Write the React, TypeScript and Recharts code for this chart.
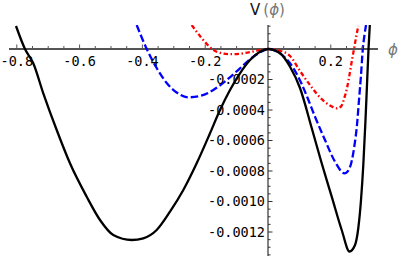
import React from 'react';
import { LineChart, Line, XAxis, YAxis, ReferenceLine, ReferenceDot } from 'recharts';

// ---- data ----
const blackPhi = [-0.8025, -0.7739, -0.7475, -0.7156, -0.6729, -0.6306, -0.5774, -0.535, -0.4927, -0.4341, -0.3971, -0.3545, -0.3121, -0.2697, -0.2271, -0.1847, -0.1529, -0.121, -0.0892, -0.0573, -0.0255, 0, 0.0382, 0.0701, 0.1019, 0.1392, 0.171, 0.2029, 0.2347, 0.2596, 0.2771, 0.2876, 0.2962, 0.3035, 0.3105, 0.3159, 0.3201, 0.3242];
const blackV = [0.0001508, 0, -0.0000938, -0.0002905, -0.0005311, -0.0007495, -0.0009685, -0.0011212, -0.0012196, -0.0012524, -0.0012412, -0.0011868, -0.0010668, -0.0009245, -0.0007495, -0.0005528, -0.0004, -0.0002688, -0.0001593, -0.0000721, -0.0000177, 0, -0.0000282, -0.0001161, -0.0002557, -0.000518, -0.0007495, -0.0009685, -0.0011868, -0.0013278, -0.0012852, -0.0011737, -0.0009901, -0.0007606, -0.0004655, -0.0002033, 0, 0.0001574];

const bluePhi = [-0.4182, -0.3863, -0.3545, -0.3226, -0.2908, -0.2538, -0.2166, -0.1742, -0.1315, -0.0892, -0.0468, -0.015, 0, 0.0287, 0.0541, 0.0796, 0.1073, 0.1274, 0.1497, 0.1815, 0.2134, 0.2436, 0.2548, 0.2659, 0.2755, 0.2834, 0.2898, 0.2962, 0.3019, 0.3073, 0.3121];
const blueV = [0.0001574, 0, -0.0001246, -0.0002229, -0.0002852, -0.0003167, -0.0003082, -0.0002688, -0.0002033, -0.0001266, -0.0000505, -0.0000111, 0, -0.0000164, -0.0000557, -0.0001213, -0.0002295, -0.0003279, -0.0004439, -0.0005967, -0.000739, -0.000815, -0.0008, -0.000741, -0.0006295, -0.0004983, -0.0003344, -0.0001705, 0, 0.0000918, 0.0001574];

const redPhi = [-0.243, -0.2166, -0.1901, -0.1634, -0.121, -0.0787, -0.036, 0, 0.0382, 0.0701, 0.1019, 0.1385, 0.1656, 0.1975, 0.2188, 0.2325, 0.243, 0.2516, 0.2611, 0.2675, 0.2739, 0.2812, 0.2876];
const redV = [0.0001574, 0.0000852, 0.0000229, -0.0000177, -0.0000341, -0.0000282, -0.0000111, 0, -0.0000118, -0.0000459, -0.0001443, -0.0002492, -0.000318, -0.0003705, -0.0003888, -0.000377, -0.0003213, -0.0002557, -0.0001508, -0.0000721, 0, 0.0000852, 0.0001508];

const xMajorTicks = [-0.8, -0.6, -0.4, -0.2, 0.2];
const xTickLabels = ['-0.8', '-0.6', '-0.4', '-0.2', '0.2'];
const xMinorTicks = [-0.75, -0.7, -0.65, -0.55, -0.5, -0.45, -0.35, -0.3, -0.25, -0.15, -0.1, -0.05, 0.05, 0.1, 0.15, 0.25, 0.3];
const yMajorTicks = [-0.0002, -0.0004, -0.0006, -0.0008, -0.001, -0.0012];
const yTickLabels = ['-0.0002', '-0.0004', '-0.0006', '-0.0008', '-0.0010', '-0.0012'];
const yMinorTicks = [0.00015, 0.0001, 0.00005, -0.00005, -0.0001, -0.00015, -0.00025, -0.0003, -0.00035, -0.00045, -0.0005, -0.00055, -0.00065, -0.0007, -0.00075, -0.00085, -0.0009, -0.00095, -0.00105, -0.0011, -0.00115, -0.00125, -0.0013, -0.00135];

const X_DOMAIN: [number, number] = [-0.8248, 0.3503];
const Y_DOMAIN: [number, number] = [-0.0013573, 0.0001574];

const rows = (phi: number[], v: number[]) => phi.map((x, i) => ({ x, v: v[i] }));
const blackData = rows(blackPhi, blackV);
const blueData = rows(bluePhi, blueV);
const redData = rows(redPhi, redV);

const MONO = '"DejaVu Sans Mono", monospace';
const AXIS_COLOR = '#555';

export default function App() {
  return (
    <div style={{ position: 'absolute', left: 0, top: 0, background: '#fff' }}>
      <LineChart width={399} height={256} margin={{ top: 25, right: 21, bottom: 0, left: 9 }}>
        <XAxis type="number" dataKey="x" domain={X_DOMAIN} allowDataOverflow hide />
        <YAxis type="number" dataKey="v" domain={Y_DOMAIN} allowDataOverflow hide />
        <ReferenceLine y={0} stroke={AXIS_COLOR} strokeWidth={2} />
        <ReferenceLine x={0} stroke="#333" strokeWidth={1.2} />
        {xMinorTicks.map((t) => (
          <ReferenceDot key={'xm' + t} x={t} y={0} r={0}
            shape={(p: any) => <line x1={p.cx} x2={p.cx} y1={p.cy} y2={p.cy - 3} stroke={AXIS_COLOR} strokeWidth={1} />} />
        ))}
        {xMajorTicks.map((t, i) => (
          <ReferenceDot key={'xM' + t} x={t} y={0} r={0}
            shape={(p: any) => (
              <g>
                <line x1={p.cx} x2={p.cx} y1={p.cy} y2={p.cy - 4.5} stroke={AXIS_COLOR} strokeWidth={1} />
                <text x={p.cx} y={p.cy + 17} textAnchor="middle" fontFamily={MONO} fontSize={13.5} fill="#000">{xTickLabels[i]}</text>
              </g>
            )} />
        ))}
        {yMinorTicks.map((t) => (
          <ReferenceDot key={'ym' + t} x={0} y={t} r={0}
            shape={(p: any) => <line x1={p.cx} x2={p.cx + 2.5} y1={p.cy} y2={p.cy} stroke="#333" strokeWidth={1} />} />
        ))}
        {yMajorTicks.map((t, i) => (
          <ReferenceDot key={'yM' + t} x={0} y={t} r={0}
            shape={(p: any) => (
              <g>
                <line x1={p.cx} x2={p.cx + 4.5} y1={p.cy} y2={p.cy} stroke="#333" strokeWidth={1} />
                <text x={p.cx - 3} y={p.cy + 4.5} textAnchor="end" fontFamily={MONO} fontSize={13.5} fill="#000">{yTickLabels[i]}</text>
              </g>
            )} />
        ))}
        <ReferenceDot x={0} y={Y_DOMAIN[1]} r={0}
          shape={(p: any) => (
            <text x={p.cx - 18} y={p.cy - 10} fontFamily='"DejaVu Sans", sans-serif' fontSize={15}>
              <tspan fill="#111">V</tspan>
              <tspan fill="#777" dx={3}>(</tspan>
              <tspan fill="#777" fontStyle="italic">ϕ</tspan>
              <tspan fill="#777">)</tspan>
            </text>
          )} />
        <ReferenceDot x={X_DOMAIN[1]} y={0} r={0}
          shape={(p: any) => (
            <text x={p.cx + 15} y={p.cy + 6} textAnchor="middle" fontFamily='"DejaVu Sans", sans-serif' fontSize={15} fontStyle="italic" fill="#777">ϕ</text>
          )} />
        <Line data={redData} dataKey="v" type="monotone" stroke="#ff0000" strokeWidth={2.3} strokeDasharray="4.5 2.5 1.5 2.5" dot={false} isAnimationActive={false} />
        <Line data={blueData} dataKey="v" type="monotone" stroke="#0000ff" strokeWidth={2.3} strokeDasharray="7.5 3" dot={false} isAnimationActive={false} />
        <Line data={blackData} dataKey="v" type="monotone" stroke="#000" strokeWidth={2.3} dot={false} isAnimationActive={false} />
      </LineChart>
    </div>
  );
}
